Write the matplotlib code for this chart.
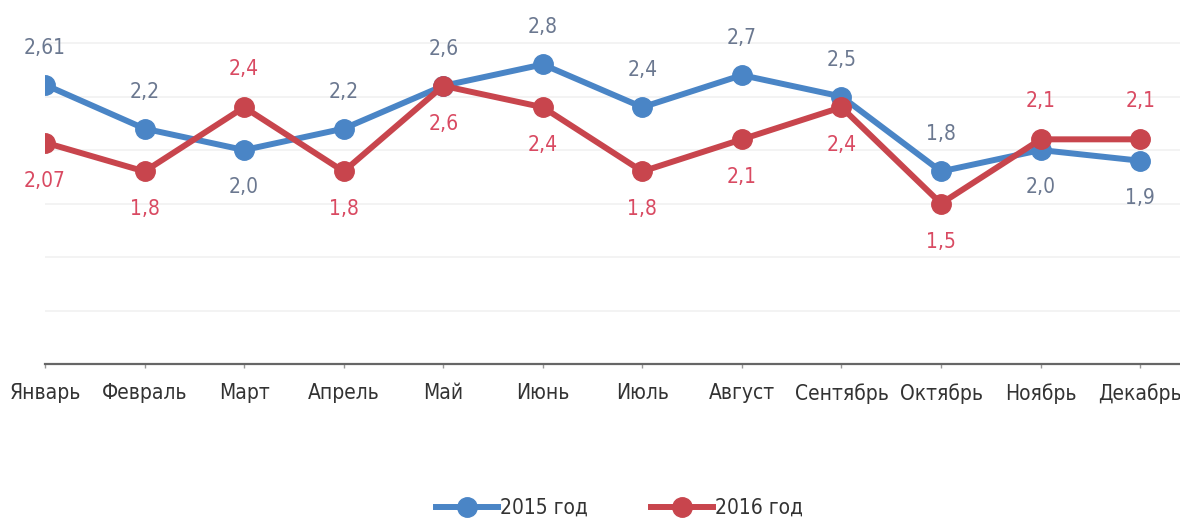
import numpy as np
import matplotlib.pyplot as plt

months = ['Январь', 'Февраль', 'Март', 'Апрель', 'Май', 'Июнь', 'Июль',
          'Август', 'Сентябрь', 'Октябрь', 'Ноябрь', 'Декабрь']
vals_2015 = [2.61, 2.2, 2.0, 2.2, 2.6, 2.8, 2.4, 2.7, 2.5, 1.8, 2.0, 1.9]
vals_2016 = [2.07, 1.8, 2.4, 1.8, 2.6, 2.4, 1.8, 2.1, 2.4, 1.5, 2.1, 2.1]
# label above (1) or below (-1) the point
pos_2015 = [1, 1, -1, 1, 1, 1, 1, 1, 1, 1, -1, -1]
pos_2016 = [-1, -1, 1, -1, -1, -1, -1, -1, -1, -1, 1, 1]

plt.rcParams['font.family'] = ['DejaVu Sans']
plt.rcParams['font.stretch'] = 'condensed'

fig = plt.figure(figsize=(11.8, 5.21), dpi=100)
ax = fig.add_axes([0.0381, 0.3013, 0.9619, 0.6777])

x = np.arange(len(months))
blue = '#4a85c6'
red = '#c8454d'
ax.plot(x, vals_2015, color=blue, lw=4.3, marker='o', ms=14, label='2015 год', zorder=3)
ax.plot(x, vals_2016, color=red, lw=4.3, marker='o', ms=14, label='2016 год', zorder=4)

def fmt(v):
    s = f'{v:.2f}' if round(v, 2) != round(v, 1) else f'{v:.1f}'
    return s.replace('.', ',')

for xi, v, p in zip(x, vals_2015, pos_2015):
    ax.annotate(fmt(v), (xi, v), xytext=(0, 37 * p), textcoords='offset pixels',
                ha='center', va='center', fontsize=15, color='#6b7890')
for xi, v, p in zip(x, vals_2016, pos_2016):
    ax.annotate(fmt(v), (xi, v), xytext=(0, 38 * p), textcoords='offset pixels',
                ha='center', va='center', fontsize=15, color='#d94a62')

ax.set_xlim(0, 11.4)
ax.set_ylim(0, 3.3)
ax.set_yticks(np.arange(0.5, 3.01, 0.5))
ax.yaxis.grid(True, color='#f1f1f1', lw=1.2)
ax.set_axisbelow(True)
ax.tick_params(axis='y', left=False, labelleft=False)
ax.set_xticks(x)
ax.set_xticklabels(months, fontsize=15, color='#333333')
ax.tick_params(axis='x', length=3, width=1, color='#999999', pad=11)
for s in ['top', 'right', 'left']:
    ax.spines[s].set_visible(False)
ax.spines['bottom'].set_color('#666666')
ax.spines['bottom'].set_linewidth(1.6)

fig.legend(loc='lower center', ncol=2, frameon=False, fontsize=15,
           bbox_to_anchor=(0.525, -0.03), handlelength=3.0, handletextpad=0.1,
           columnspacing=3.0, labelcolor='#333333')

fig.savefig('out.png', dpi=100)
